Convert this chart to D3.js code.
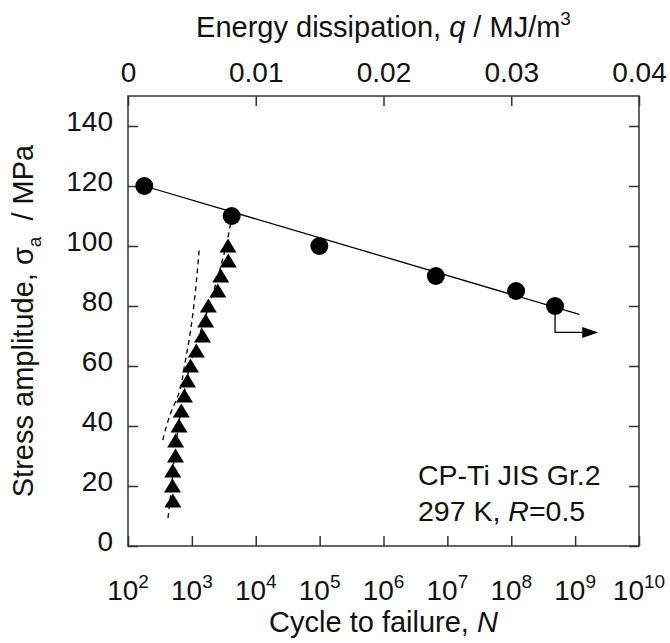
<!DOCTYPE html>
<meta charset="utf-8">
<title>S-N curve and energy dissipation</title>
<style>
body { margin: 0; background: #fff; }
svg { display: block; }
text { font-family: "Liberation Sans", Arial, sans-serif; fill: #111; }
.frame { fill: none; stroke: #333; stroke-width: 1.5; }
.tick line { stroke: #333; stroke-width: 1.5; }
.fit { fill: none; stroke: #000; stroke-width: 1.3; }
.dash { fill: none; stroke: #000; stroke-width: 1.3; stroke-dasharray: 5,4; }
</style>
<svg width="670" height="643"></svg>
<script src="https://d3js.org/d3.v7.min.js"></script>
<script>

// circles: cycles to failure vs stress amplitude (S-N)
var cycN = [180, 4200, 99000, 6.6e6, 1.19e8, 4.85e8];
var cycS = [120, 110, 100, 90, 85, 80];
// last specimen did not fail (run-out arrow)
var runoutN = [4.85e8, 4.85e8, 2.3e9];
var runoutS = [80, 71.2, 71.2];
// fitted S-N line
var fitN = [180, 1.16e9];
var fitS = [120, 77.2];

// triangles: energy dissipation per stress step
var triS = [15, 20, 25, 30, 35, 40, 45, 50, 55, 60, 65, 70, 75, 80, 85, 90, 95, 100];
var triQ = [0.00351, 0.00348, 0.00350, 0.00372, 0.00373, 0.00399, 0.00417, 0.00442, 0.00466,
            0.00489, 0.00535, 0.00583, 0.00608, 0.00629, 0.00703, 0.00726, 0.00785, 0.00783];

// dashed curves
var dashAS = [35.3, 43.7, 51.4, 61, 69.2, 99.2];
var dashAQ = [0.00272, 0.00329, 0.00402, 0.00446, 0.00480, 0.00558];
var dashBS = [9.3, 20, 30, 40, 50, 60, 70, 80, 90, 100, 110];
var dashBQ = [0.00313, 0.00341, 0.00364, 0.00395, 0.00434, 0.00485, 0.00556, 0.00634, 0.00705, 0.00767, 0.00814];

// ticks
var nExp = [2, 3, 4, 5, 6, 7, 8, 9, 10];
var qTicks = [0, 0.01, 0.02, 0.03, 0.04];
var sTicks = [0, 20, 40, 60, 80, 100, 120, 140];

var svg = d3.select("svg"),
    margin = {top: 96, right: 31, bottom: 97, left: 128},
    width = +svg.attr("width") - margin.left - margin.right,
    height = +svg.attr("height") - margin.top - margin.bottom;

var g = svg.append("g")
    .attr("transform", "translate(" + margin.left + "," + margin.top + ")");

var xN = d3.scaleLog().domain([1e2, 1e10]).range([0, width]);
var xQ = d3.scaleLinear().domain([0, 0.04]).range([0, width]);
var y = d3.scaleLinear().domain([0, 150]).range([height, 0]);

// axes, ticks pointing inward
g.append("g")
    .attr("class", "axis axis--y")
    .call(d3.axisLeft(y).tickValues(sTicks).tickSize(-10).tickSizeOuter(0).tickPadding(15))
    .selectAll("text")
    .attr("dy", "0.15em")
    .style("font-size", "28px");

g.append("g")
    .attr("class", "axis axis--y2")
    .attr("transform", "translate(" + width + ",0)")
    .call(d3.axisRight(y).tickValues(sTicks).tickSize(-10).tickSizeOuter(0).tickFormat(""));

g.append("g")
    .attr("class", "axis axis--q")
    .call(d3.axisTop(xQ).tickValues(qTicks).tickSize(-10).tickSizeOuter(0).tickPadding(14)
        .tickFormat(function(d) { return d === 0 ? "0" : d3.format(".2f")(d).replace(/0$/, ""); }))
    .selectAll("text")
    .style("font-size", "28px");

g.append("g")
    .attr("class", "axis axis--n")
    .attr("transform", "translate(0," + height + ")")
    .call(d3.axisBottom(xN).tickValues(nExp.map(function(e) { return Math.pow(10, e); }))
        .tickSize(-10).tickSizeOuter(0).tickFormat(""));

g.selectAll(".domain").remove();

// power-of-ten labels
var nLab = g.append("g").selectAll("text")
    .data(nExp)
    .enter().append("text")
    .attr("x", function(d) { return xN(Math.pow(10, d)); })
    .attr("y", height + 54)
    .attr("text-anchor", "middle")
    .style("font-size", "28px");
nLab.append("tspan").text("10");
nLab.append("tspan").attr("dy", -12).style("font-size", "19px").text(function(d) { return d; });

g.append("rect")
    .attr("class", "frame")
    .attr("width", width)
    .attr("height", height);

// dashed curves
var lineQ = d3.line()
    .x(function(d) { return xQ(d[0]); })
    .y(function(d) { return y(d[1]); })
    .curve(d3.curveMonotoneY);

g.append("path")
    .attr("class", "dash")
    .attr("d", lineQ(d3.zip(dashAQ, dashAS)));
g.append("path")
    .attr("class", "dash")
    .attr("d", lineQ(d3.zip(dashBQ, dashBS)));

// fitted line and run-out
var lineN = d3.line()
    .x(function(d) { return xN(d[0]); })
    .y(function(d) { return y(d[1]); });

g.append("path")
    .attr("class", "fit")
    .attr("d", lineN(d3.zip(fitN, fitS)));
g.append("path")
    .attr("class", "fit")
    .attr("d", lineN(d3.zip(runoutN, runoutS).slice(0, 2).concat([[runoutN[2] / 1.5, runoutS[2]]])));

// arrow head at end of run-out
var ax = xN(runoutN[2]), ay = y(runoutS[2]);
g.append("path")
    .attr("d", "M" + ax + "," + ay + "L" + (ax - 16) + "," + (ay - 5.5) + "L" + (ax - 16) + "," + (ay + 5.5) + "Z")
    .attr("fill", "#000");

// triangles
g.selectAll(".tri")
    .data(d3.zip(triQ, triS))
    .enter().append("path")
    .attr("class", "tri")
    .attr("transform", function(d) { return "translate(" + xQ(d[0]) + "," + y(d[1]) + ")"; })
    .attr("d", "M0,-7.5L8.5,6.5L-8.5,6.5Z")
    .attr("fill", "#000");

// circles
g.selectAll(".dot")
    .data(d3.zip(cycN, cycS))
    .enter().append("circle")
    .attr("class", "dot")
    .attr("cx", function(d) { return xN(d[0]); })
    .attr("cy", function(d) { return y(d[1]); })
    .attr("r", 9)
    .attr("fill", "#000");

// axis titles
var topTitle = svg.append("text")
    .attr("x", margin.left + width / 2)
    .attr("y", 37)
    .attr("text-anchor", "middle")
    .style("font-size", "29px");
topTitle.append("tspan").text("Energy dissipation, ");
topTitle.append("tspan").style("font-style", "italic").text("q");
topTitle.append("tspan").text(" / MJ/m");
topTitle.append("tspan").attr("dy", -12).style("font-size", "19px").text("3");

var bottomTitle = svg.append("text")
    .attr("x", margin.left + width / 2)
    .attr("y", 632)
    .attr("text-anchor", "middle")
    .style("font-size", "29px");
bottomTitle.append("tspan").text("Cycle to failure, ");
bottomTitle.append("tspan").style("font-style", "italic").text("N");

var leftTitle = svg.append("text")
    .attr("transform", "translate(33," + (margin.top + height / 2) + ") rotate(-90)")
    .attr("text-anchor", "middle")
    .style("font-size", "29px");
leftTitle.append("tspan").text("Stress amplitude, \u03c3");
leftTitle.append("tspan").attr("dy", 8).style("font-size", "19px").text("a");
leftTitle.append("tspan").attr("dy", -8).text("\u00a0 / MPa");

// material note
var note = g.append("text")
    .attr("x", 290)
    .attr("y", 389)
    .style("font-size", "28.5px");
note.append("tspan").text("CP-Ti JIS Gr.2");
note.append("tspan").attr("x", 290).attr("dy", 36).text("297 K, ");
note.append("tspan").style("font-style", "italic").text("R");
note.append("tspan").text("=0.5");

</script>
